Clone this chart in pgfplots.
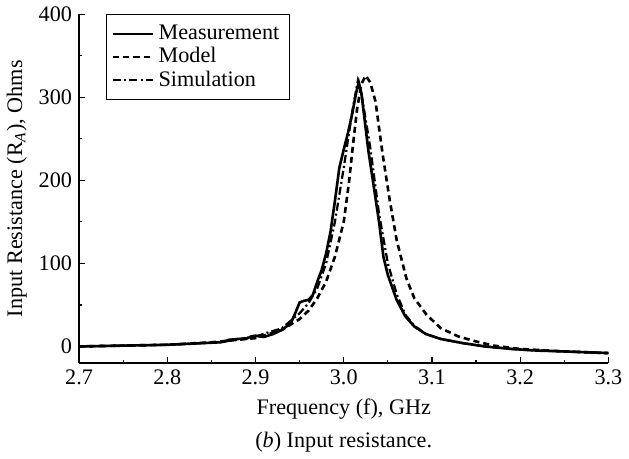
\documentclass[border=0pt]{standalone}
\usepackage{pgfplots}
\pgfplotsset{compat=1.18}
\usepackage{fontspec}
\setmainfont{Liberation Serif}
\begin{document}
\begin{tikzpicture}
\begin{axis}[
  scale only axis,
  width=262.5pt, height=173pt,
  xmin=2.7, xmax=3.3, ymin=-20, ymax=400,
  axis x line*=bottom, axis y line*=left,
  axis line style={-, line width=0.6pt},
  tick align=inside,
  tick style={black, line width=0.6pt},
  major tick length=3pt, minor tick length=1.6pt,
  xtick={2.7,2.8,...,3.31}, ytick={0,100,200,300,400},
  minor x tick num=1, minor y tick num=1,
  /pgf/number format/assume math mode=true,
  xticklabel style={/pgf/number format/.cd, fixed, fixed zerofill, precision=1},
  yticklabel style={/pgf/number format/.cd, fixed, precision=0},
  tick label style={font=\fontsize{11}{13}\selectfont},
  label style={font=\fontsize{11}{13}\selectfont},
  xlabel={Frequency (f), GHz},
  ylabel={Input Resistance (R\textsubscript{\itshape A}), Ohms},
  xlabel style={yshift=0pt},
  ylabel style={yshift=-1pt},
  legend style={at={(rel axis cs:0.05,1.0)}, anchor=north west, draw=black, line width=0.6pt,
    font=\fontsize{11}{13}\selectfont, row sep=-1.5pt, inner sep=3pt},
  legend cell align=left,
  legend image code/.code={\draw[#1, line width=1.1pt] (0cm,0cm) -- (0.7cm,0cm);},
  clip=false,
]
\addplot[black, line width=1.3pt] coordinates {
(2.70,0) (2.75,1) (2.80,2) (2.84,4) (2.86,5) (2.865,6) (2.87,8) (2.88,9) (2.89,9.5)
(2.895,12) (2.90,13) (2.905,12) (2.91,11.5) (2.92,15) (2.93,20) (2.94,28) (2.945,40)
(2.95,53) (2.955,55) (2.96,56) (2.965,62) (2.97,78) (2.975,92) (2.98,112) (2.985,138)
(2.99,175) (2.995,215) (3.00,237) (3.005,258) (3.01,282) (3.014,305) (3.017,318)
(3.02,305) (3.024,270) (3.028,235) (3.033,200) (3.04,150) (3.045,108) (3.05,86) (3.056,68)
(3.06,56) (3.07,36) (3.08,24) (3.093,15) (3.11,9) (3.135,4) (3.16,0) (3.19,-3)
(3.22,-5) (3.25,-6) (3.3,-8)
};
\addlegendentry{Measurement}
\addplot[black, line width=1.3pt, dash pattern=on 3pt off 2pt] coordinates {
(2.70,0) (2.75,1) (2.80,2) (2.85,5) (2.90,10) (2.93,20) (2.95,33) (2.96,43) (2.97,58)
(2.98,78) (2.99,108) (3.00,150) (3.006,198) (3.01,238) (3.015,285) (3.02,316)
(3.025,326) (3.03,318) (3.036,295) (3.044,232) (3.052,177) (3.06,128) (3.071,82)
(3.08,58) (3.094,38) (3.11,22) (3.13,12) (3.15,6) (3.17,1) (3.2,-3) (3.25,-6) (3.3,-8)
};
\addlegendentry{Model}
\addplot[black, line width=1.1pt, dash pattern=on 4pt off 1.5pt on 1pt off 1.5pt] coordinates {
(2.70,0) (2.80,2) (2.86,5) (2.90,12) (2.93,22) (2.95,40) (2.96,52) (2.97,70)
(2.98,100) (2.99,150) (3.00,215) (3.01,285) (3.016,320) (3.02,305) (3.03,240)
(3.04,160) (3.05,100) (3.06,63) (3.07,38) (3.08,25) (3.093,15) (3.11,9) (3.135,4)
(3.16,0) (3.2,-4) (3.25,-6) (3.3,-8)
};
\addlegendentry{Simulation}
\node[font=\fontsize{11}{13}\selectfont] at ([yshift=-39pt]rel axis cs:0.5,0) {(\textit{b}) Input resistance.};
\end{axis}
\end{tikzpicture}
\end{document}
